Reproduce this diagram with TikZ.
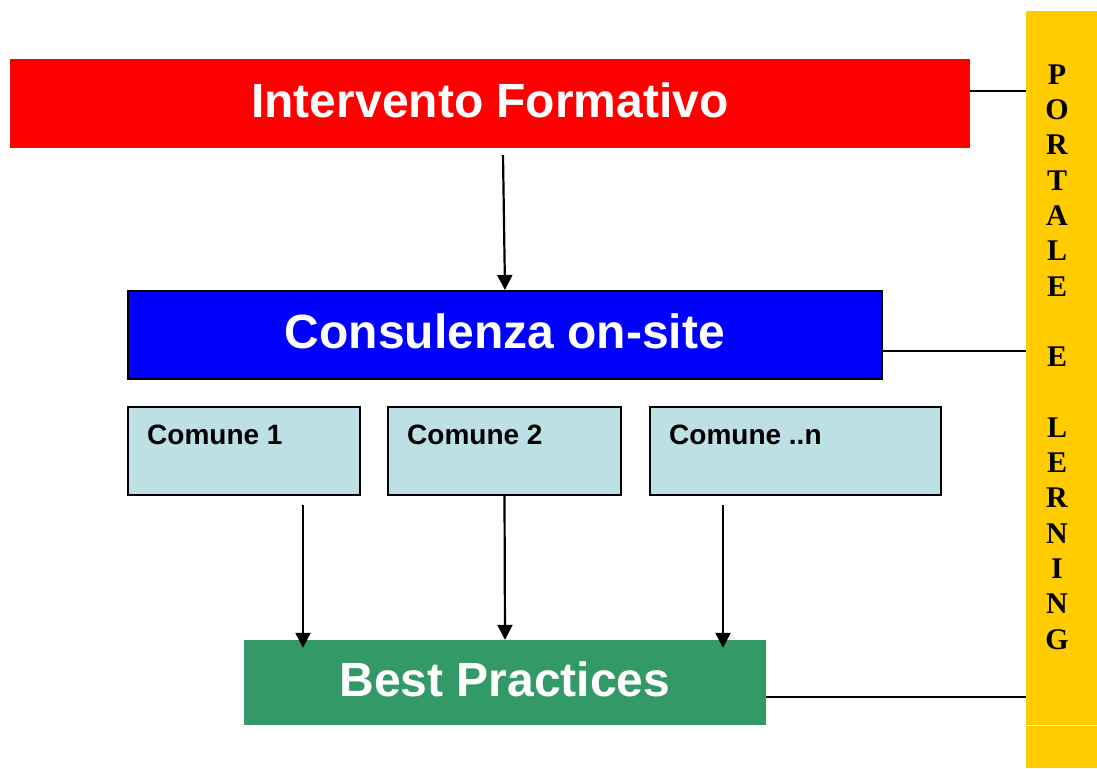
\documentclass[tikz,border=0pt]{standalone}
\usepackage{fontspec}
\setmainfont{Liberation Sans}
\newfontfamily\portalefont{Liberation Serif}
\usetikzlibrary{arrows.meta,calc}

\definecolor{rosso}{HTML}{FF0000}
\definecolor{blu}{HTML}{0000FF}
\definecolor{azzurro}{HTML}{BCE0E3}
\definecolor{verde}{HTML}{339966}
\definecolor{giallo}{HTML}{FFCC00}

\begin{document}
\begin{tikzpicture}[x=1pt,y=-1pt,
  titolo/.style={text=white,font=\fontsize{48}{58}\selectfont\bfseries,inner sep=0pt,text height=35pt,text depth=8pt},
  comune/.style={draw=black,line width=2pt,fill=azzurro,minimum height=88pt,inner sep=0pt},
  lbl/.style={anchor=north west,inner sep=0pt,xshift=20pt,yshift=-19pt,font=\fontsize{28}{34}\selectfont\bfseries},
  arr/.style={line width=2.2pt,-{Triangle[length=15pt,width=15pt]}},
  link/.style={line width=2.5pt}]
\useasboundingbox (0,0) rectangle (1097,768);
\fill[white] (0,0) rectangle (1097,768);
% portale sulla destra
\node[fill=giallo,minimum width=71pt,minimum height=757pt,inner sep=0pt] (portale) at (1061.5,389.5) {};
\draw[white,line width=1pt] (portale.west |- 0,725) -- (portale.east |- 0,725);
\node[inner sep=0pt,align=center,font=\portalefont\fontsize{30}{35.3}\selectfont\bfseries] (lettere) at (1057,357)
  {P\\O\\R\\T\\A\\L\\E\\ \\E\\ \\L\\E\\R\\N\\I\\N\\G};
% blocchi
\node[titolo,fill=rosso,minimum width=960pt,minimum height=89pt] (formativo) at (490,103.5) {Intervento Formativo};
\node[titolo,fill=blu,draw=black,line width=2pt,minimum width=754pt,minimum height=88pt] (consulenza) at (505,335) {Consulenza on-site};
\node[comune,minimum width=232pt,label={[lbl]north west:Comune 1}] (comune1) at (244,451) {};
\node[comune,minimum width=233pt,label={[lbl]north west:Comune 2}] (comune2) at (504.5,451) {};
\node[comune,minimum width=291pt,label={[lbl]north west:Comune ..n}] (comune3) at (795.5,451) {};
\node[titolo,fill=verde,minimum width=522pt,minimum height=85pt] (best) at (505,682.5) {Best Practices};
% frecce
\draw[arr] ([xshift=13pt,yshift=-7pt]formativo.south) -- (consulenza.north);
\coordinate (s1) at ([xshift=59pt,yshift=-9pt]comune1.south);
\coordinate (s3) at ([xshift=-72.5pt,yshift=-9pt]comune3.south);
\draw[arr] (s1) -- ($(s1 |- best.north)+(0,8)$);
\draw[arr] (comune2.south) -- (best.north);
\draw[arr] (s3) -- ($(s3 |- best.north)+(0,8)$);
% collegamenti al portale
\coordinate (f1) at ([yshift=12.5pt]formativo.east);
\coordinate (c1) at ([yshift=-16pt]consulenza.east);
\coordinate (b1) at ([yshift=-14.5pt]best.east);
\draw[link] (f1) -- (f1 -| portale.west);
\draw[link] (c1) -- (c1 -| portale.west);
\draw[link] (b1) -- (b1 -| portale.west);
\end{tikzpicture}
\end{document}
